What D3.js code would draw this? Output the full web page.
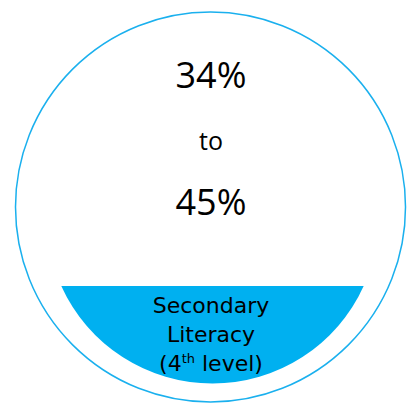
<!DOCTYPE html>
<html>
<head>
<meta charset="utf-8">
<script src="https://cdn.jsdelivr.net/npm/d3@7"></script>
<style>
  body { margin: 0; background: #fff; }
</style>
</head>
<body>
<div id="chart"></div>
<script>
// values shown in the bubble
var rangeValues = [34, 45];
var rangeWords = ["to"];
var levelLines = ["Secondary", "Literacy"];
var levelNumber = ["4", "th", " level"];

var width = 412, height = 405;

var svg = d3.select("#chart")
  .append("svg")
    .attr("width", width)
    .attr("height", height);

// outer ring
svg.append("circle")
    .attr("cx", 210.5)
    .attr("cy", 207)
    .attr("r", 195)
    .style("fill", "none")
    .style("stroke", "#1AB0EE")
    .style("stroke-width", 1.5);

// bottom filled segment (part of a smaller circle cut by a chord)
var segCx = 212.5, segCy = 217.5, segR = 166, chordY = 286;
var a0 = Math.asin((chordY - segCy) / segR);
var p = d3.path();
p.arc(segCx, segCy, segR, a0, Math.PI - a0, false);
p.closePath();
svg.append("path")
    .attr("d", p.toString())
    .style("fill", "#00B0F0");

// top text: range
var fmt = function(v) { return v + "%"; };
var topTexts = [fmt(rangeValues[0]), rangeWords[0], fmt(rangeValues[1])];
var topY = [88, 150, 215];
var topSize = [36, 25, 36];

svg.selectAll("text.top")
  .data(topTexts)
  .enter()
  .append("text")
    .attr("class", "top")
    .attr("x", 211)
    .attr("y", function(d, i) { return topY[i]; })
    .attr("text-anchor", "middle")
    .style("font-family", "'Open Sans', sans-serif")
    .style("font-size", function(d, i) { return topSize[i] + "px"; })
    .style("fill", "#000")
    .text(function(d) { return d; });

// bottom text: level label
svg.selectAll("text.lvl")
  .data(levelLines)
  .enter()
  .append("text")
    .attr("class", "lvl")
    .attr("x", 211)
    .attr("y", function(d, i) { return 313 + i * 29; })
    .attr("text-anchor", "middle")
    .style("font-family", "'DejaVu Sans', sans-serif")
    .style("font-size", "22px")
    .style("fill", "#000")
    .text(function(d) { return d; });

var last = svg.append("text")
    .attr("x", 211)
    .attr("y", 371)
    .attr("text-anchor", "middle")
    .style("font-family", "'DejaVu Sans', sans-serif")
    .style("font-size", "22px")
    .style("fill", "#000");
last.append("tspan").text("(" + levelNumber[0]);
last.append("tspan")
    .attr("dy", -8)
    .style("font-size", "13px")
    .text(levelNumber[1]);
last.append("tspan")
    .attr("dy", 8)
    .text(levelNumber[2] + ")");
</script>
</body>
</html>
